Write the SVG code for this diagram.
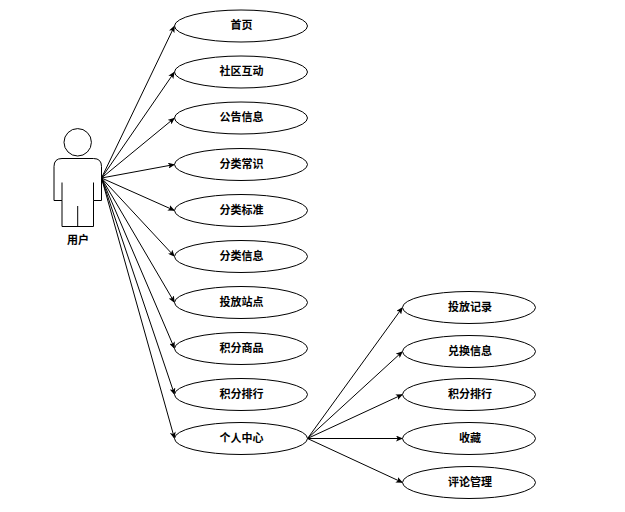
<svg xmlns="http://www.w3.org/2000/svg" width="625" height="512" viewBox="0 0 625 512">
<style>
.n{fill:#fff;stroke:#000;stroke-width:1}
.c{fill:none;stroke:#000;stroke-width:1;marker-end:url(#a)}
.a{fill:none;stroke:#000;stroke-width:1}
text{font-family:"Noto Sans CJK SC","Liberation Sans",sans-serif;font-size:11px;font-weight:700;text-anchor:middle;fill:#000}
</style>
<defs><marker id="a" viewBox="0 0 7 6" refX="6.500" refY="3" markerWidth="7" markerHeight="6" markerUnits="userSpaceOnUse" orient="auto"><path d="M0 0L7 3L0 6L1.700 3Z" fill="#000"/></marker></defs>
<rect width="625" height="512" fill="#fff"/>
<g id="connectors">
<line class="c" x1="101.500" y1="178" x2="174.500" y2="26"/>
<line class="c" x1="101.500" y1="178" x2="174.500" y2="72"/>
<line class="c" x1="101.500" y1="178" x2="174.500" y2="118"/>
<line class="c" x1="101.500" y1="178" x2="174.500" y2="164.500"/>
<line class="c" x1="101.500" y1="178" x2="174.500" y2="210.500"/>
<line class="c" x1="101.500" y1="178" x2="174.500" y2="256.500"/>
<line class="c" x1="101.500" y1="178" x2="174.500" y2="302.500"/>
<line class="c" x1="101.500" y1="178" x2="174.500" y2="348.500"/>
<line class="c" x1="101.500" y1="178" x2="174.500" y2="394.500"/>
<line class="c" x1="101.500" y1="178" x2="174.500" y2="438.500"/>
<line class="c" x1="307.500" y1="438.500" x2="402.500" y2="307.500"/>
<line class="c" x1="307.500" y1="438.500" x2="402.500" y2="351.500"/>
<line class="c" x1="307.500" y1="438.500" x2="402.500" y2="394.500"/>
<line class="c" x1="307.500" y1="438.500" x2="402.500" y2="438.500"/>
<line class="c" x1="307.500" y1="438.500" x2="402.500" y2="482.500"/>
</g>
<g id="actor">
<circle class="a" cx="77.700" cy="142.300" r="13.700"/>
<path class="a" d="M62 182.500V200.500H54V166.500Q54 158.500 62 158.500H93.500Q101.500 158.500 101.500 166.500V200.500H93.500V182.500M62 200.500V226.500H93.500V200.500M77.700 206V226.500"/>
<text x="78" y="244">用户</text>
</g>
<g id="n1"><ellipse class="n" cx="241" cy="26" rx="66.500" ry="16"/><text x="241.500" y="29">首页</text></g>
<g id="n2"><ellipse class="n" cx="241" cy="72" rx="66.500" ry="16"/><text x="241.500" y="75">社区互动</text></g>
<g id="n3"><ellipse class="n" cx="241" cy="118" rx="66.500" ry="16"/><text x="241.500" y="121">公告信息</text></g>
<g id="n4"><ellipse class="n" cx="241" cy="164.500" rx="66.500" ry="16"/><text x="241.500" y="168">分类常识</text></g>
<g id="n5"><ellipse class="n" cx="241" cy="210.500" rx="66.500" ry="16"/><text x="241.500" y="214">分类标准</text></g>
<g id="n6"><ellipse class="n" cx="241" cy="256.500" rx="66.500" ry="16"/><text x="241.500" y="260">分类信息</text></g>
<g id="n7"><ellipse class="n" cx="241" cy="302.500" rx="66.500" ry="16"/><text x="241.500" y="306">投放站点</text></g>
<g id="n8"><ellipse class="n" cx="241" cy="348.500" rx="66.500" ry="16"/><text x="241.500" y="352">积分商品</text></g>
<g id="n9"><ellipse class="n" cx="241" cy="394.500" rx="66.500" ry="16"/><text x="241.500" y="398">积分排行</text></g>
<g id="n10"><ellipse class="n" cx="241" cy="438.500" rx="66.500" ry="16"/><text x="241.500" y="442">个人中心</text></g>
<g id="m1"><ellipse class="n" cx="469" cy="307.500" rx="66.500" ry="16"/><text x="470" y="311">投放记录</text></g>
<g id="m2"><ellipse class="n" cx="469" cy="351.500" rx="66.500" ry="16"/><text x="470" y="355">兑换信息</text></g>
<g id="m3"><ellipse class="n" cx="469" cy="394.500" rx="66.500" ry="16"/><text x="470" y="398">积分排行</text></g>
<g id="m4"><ellipse class="n" cx="469" cy="438.500" rx="66.500" ry="16"/><text x="470" y="442">收藏</text></g>
<g id="m5"><ellipse class="n" cx="469" cy="482.500" rx="66.500" ry="16"/><text x="470" y="486">评论管理</text></g>
</svg>
